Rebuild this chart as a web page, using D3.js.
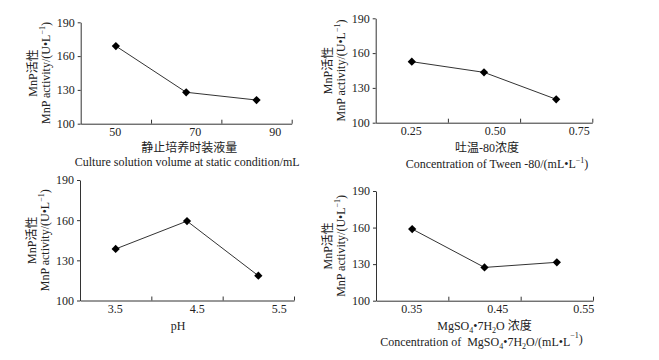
<!DOCTYPE html>
<html>
<head>
<meta charset="utf-8">
<script src="https://cdn.jsdelivr.net/npm/d3@7"></script>
<style>
  body { margin: 0; background: #fff; }
  text { font-family: "Liberation Serif", "Noto Sans CJK SC", serif; fill: #222; }
</style>
</head>
<body>
<svg id="chart" width="659" height="360"></svg>
<script>
// data
const volumeCats = ["50", "70", "90"];
const volumeVals = [168.9, 127.9, 121.0];

const tweenCats = ["0.25", "0.50", "0.75"];
const tweenVals = [152.6, 143.4, 120.2];

const phCats = ["3.5", "4.5", "5.5"];
const phVals = [138.5, 159.3, 118.5];

const mgCats = ["0.35", "0.45", "0.55"];
const mgVals = [158.8, 127.3, 131.5];

const yTicks = [100, 130, 160, 190];

const svg = d3.select("#chart");

function yTitle(g, h) {
    const t = g.append("text")
        .attr("transform", `translate(-44, ${h / 2}) rotate(-90)`)
        .attr("text-anchor", "middle")
        .attr("font-size", 12);
    t.append("tspan").text("MnP活性");
    const t2 = g.append("text")
        .attr("transform", `translate(-31, ${h / 2}) rotate(-90)`)
        .attr("text-anchor", "middle")
        .attr("font-size", 12);
    t2.append("tspan").text("MnP activity/(U•L");
    t2.append("tspan").attr("font-size", 8).attr("dy", -5).text("−1");
    t2.append("tspan").attr("dy", 5).text(")");
}

function panel(cfg) {
    const w = cfg.x1 - cfg.x0, h = cfg.y1 - cfg.y0;
    const g = svg.append("g").attr("transform", `translate(${cfg.x0}, ${cfg.y0})`);

    const x = d3.scalePoint().domain(cfg.cats).range([0, w]).padding(0.5);
    const y = d3.scaleLinear().domain([100, 190]).range([h, 0]);

    // category boundaries (tick marks, pointing inward)
    const xb = d3.scaleLinear().domain([0, cfg.cats.length]).range([0, w]);
    g.append("g")
        .attr("transform", `translate(0, ${h})`)
        .call(d3.axisBottom(xb).tickValues([1, 2, 3]).tickSize(-4).tickSizeOuter(0).tickFormat(""))
        .call(a => a.selectAll("path, line").attr("stroke", "#333"));

    // tick labels (spread slightly wider than the categories, as in the figure)
    const c0 = x(cfg.cats[0]) - 1;
    const xl = d3.scalePoint().domain(cfg.cats).range([c0, c0 + 2 * cfg.spread]);
    g.append("g")
        .attr("transform", `translate(0, ${h})`)
        .call(d3.axisBottom(xl).tickSize(0).tickPadding(4))
        .call(a => a.select(".domain").remove())
        .call(a => a.selectAll("text").attr("font-size", 12)
            .attr("font-family", "Liberation Serif").attr("fill", "#222"));

    g.append("g")
        .call(d3.axisLeft(y).tickValues(yTicks).tickSize(3).tickSizeOuter(0).tickPadding(3))
        .call(a => a.selectAll("path, line").attr("stroke", "#333"))
        .call(a => a.selectAll("text").attr("font-size", 12)
            .attr("font-family", "Liberation Serif").attr("fill", "#222"));

    const pts = cfg.cats.map((c, i) => ({ c: c, v: cfg.vals[i] }));
    g.append("path")
        .datum(pts)
        .attr("fill", "none")
        .attr("stroke", "#333")
        .attr("stroke-width", 1)
        .attr("d", d3.line().x(d => x(d.c)).y(d => y(d.v)));

    g.selectAll(".pt")
        .data(pts)
        .join("path")
        .attr("class", "pt")
        .attr("d", d3.symbol(d3.symbolSquare, 34))
        .attr("fill", "#000")
        .attr("transform", d => `translate(${x(d.c)}, ${y(d.v)}) rotate(45)`);

    yTitle(g, h);

    cfg.xtitle(g.append("g").attr("transform", `translate(${w / 2}, ${h})`));
}

function line(g, dy, dx) {
    return g.append("text")
        .attr("x", dx || 0)
        .attr("y", dy)
        .attr("text-anchor", "middle")
        .attr("font-size", 12);
}

panel({
    cats: volumeCats, vals: volumeVals, spread: 80,
    x0: 80.7, x1: 291.7, y0: 22.3, y1: 123.7,
    xtitle: g => {
        line(g, 28, 3).text("静止培养时装液量");
        line(g, 42, 1).text("Culture solution volume at static condition/mL");
    }
});

panel({
    cats: tweenCats, vals: tweenVals, spread: 84,
    x0: 375.7, x1: 592.3, y0: 18.3, y1: 122.7,
    xtitle: g => {
        line(g, 29, 3).text("吐温-80浓度");
        const t = line(g, 45, 13);
        t.append("tspan").text("Concentration of Tween -80/(mL•L");
        t.append("tspan").attr("font-size", 8).attr("dy", -5).text("−1");
        t.append("tspan").attr("dy", 5).text(")");
    }
});

panel({
    cats: phCats, vals: phVals, spread: 82,
    x0: 80, x1: 294, y0: 180, y1: 300.5,
    xtitle: g => {
        line(g, 29, -9).text("pH");
    }
});

panel({
    cats: mgCats, vals: mgVals, spread: 86,
    x0: 376, x1: 593, y0: 191, y1: 300.7,
    xtitle: g => {
        const t1 = line(g, 29, 0);
        t1.append("tspan").text("MgSO");
        t1.append("tspan").attr("font-size", 8).attr("dy", 3).text("4");
        t1.append("tspan").attr("dy", -3).text("•7H");
        t1.append("tspan").attr("font-size", 8).attr("dy", 3).text("2");
        t1.append("tspan").attr("dy", -3).text("O 浓度");
        const t2 = line(g, 45, -3);
        t2.append("tspan").text("Concentration of \u00a0MgSO");
        t2.append("tspan").attr("font-size", 8).attr("dy", 3).text("4");
        t2.append("tspan").attr("dy", -3).text("•7H");
        t2.append("tspan").attr("font-size", 8).attr("dy", 3).text("2");
        t2.append("tspan").attr("dy", -3).text("O/(mL•L");
        t2.append("tspan").attr("font-size", 8).attr("dy", -8).text("−1");
        t2.append("tspan").attr("dy", 5).text(")");
    }
});
</script>
</body>
</html>
